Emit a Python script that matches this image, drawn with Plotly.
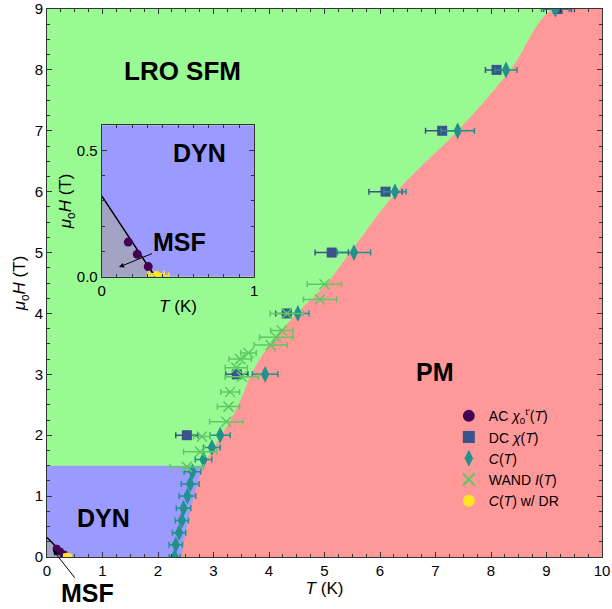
import plotly.graph_objects as go

# ---------------- data ----------------
T_MAX, H_MAX = 10, 9
INSET_T_MAX, INSET_H_MAX = 1, 0.6
DYN_H_MAX = 1.5
DYN_T_MAX = 3.0

# PM phase boundary
pm_T = [2.42, 2.52, 2.65, 2.82, 3.15, 3.45, 3.68, 4.02, 4.5, 5.05, 5.46, 6.3, 7.4, 8.35, 9.12]
pm_H = [0.0, 0.5, 1.0, 1.5, 2.0, 2.5, 3.0, 3.5, 4.0, 4.5, 5.0, 6.0, 7.0, 8.0, 9.0]

# MSF boundary line
msf_T = [0.0, 0.35]
msf_H = [0.32, 0.0]

# AC chi
ac_T = [0.174, 0.233, 0.305]
ac_H = [0.137, 0.089, 0.04]
ac_err = [0.01, 0.01, 0.01]

# DC chi
dc_T = [2.52, 3.42, 4.32, 5.13, 6.1, 7.12, 8.1, 9.2]
dc_H = [2.0, 3.0, 4.0, 5.0, 6.0, 7.0, 8.0, 9.0]
dc_err = [0.2, 0.2, 0.2, 0.3, 0.3, 0.3, 0.2, 0.25]

# C(T)
c_T = [2.30, 2.32, 2.38, 2.43, 2.46, 2.53, 2.58, 2.62, 2.82, 2.97, 3.12, 3.93, 4.52, 5.53, 6.27, 7.4, 8.27, 9.16]
c_H = [0.0, 0.2, 0.4, 0.6, 0.8, 1.0, 1.2, 1.4, 1.6, 1.8, 2.0, 3.0, 4.0, 5.0, 6.0, 7.0, 8.0, 9.0]
c_err = [0.1, 0.12, 0.12, 0.12, 0.13, 0.15, 0.16, 0.15, 0.15, 0.15, 0.18, 0.23, 0.2, 0.3, 0.2, 0.3, 0.2, 0.25]

# WAND I(T)
w_T = [2.52, 2.76, 2.79, 3.23, 3.27, 3.30, 3.51, 3.41, 3.48, 3.63, 4.03, 4.13, 4.23, 4.32, 4.92, 5.0]
w_H = [1.48, 1.73, 1.98, 2.22, 2.47, 2.71, 2.96, 3.11, 3.25, 3.35, 3.48, 3.61, 3.72, 4.0, 4.23, 4.48]
w_err = [0.3, 0.3, 0.15, 0.3, 0.2, 0.17, 0.3, 0.2, 0.2, 0.14, 0.3, 0.3, 0.2, 0.3, 0.3, 0.31]

# C(T) w/ DR
dr_T = [0.37, 0.36]
dr_H = [0.005, 0.012]
dr_err = [0.07, 0.05]

# ---------------- style ----------------
GREEN = "#99fa93"
BLUE = "#9b9bff"
RED = "#ff9898"
GRAY = "#a3a3c6"
C_AC, C_DC, C_C, C_W, C_DR = "#440154", "#3b528b", "#21918c", "#5ec962", "#fde725"
FONT = "Liberation Sans, Arial, sans-serif"

fig = go.Figure()

# DYN region (main)
fig.add_trace(go.Scatter(x=[0, DYN_T_MAX, DYN_T_MAX, 0], y=[0, 0, DYN_H_MAX, DYN_H_MAX],
                         fill="toself", fillcolor=BLUE, mode="none", showlegend=False,
                         hoverinfo="skip"))
# PM region
fig.add_trace(go.Scatter(x=pm_T + [T_MAX, T_MAX], y=pm_H + [H_MAX, 0],
                         fill="toself", fillcolor=RED, mode="none", showlegend=False,
                         line_shape="spline", hoverinfo="skip"))
# MSF region + line
fig.add_trace(go.Scatter(x=[0] + msf_T, y=[0] + msf_H, fill="toself", fillcolor=GRAY,
                         mode="none", showlegend=False, hoverinfo="skip"))
fig.add_trace(go.Scatter(x=msf_T, y=msf_H, mode="lines", line=dict(color="black", width=1.5),
                         showlegend=False))


def errx(arr, color):
    return dict(type="data", array=arr, visible=True, color=color, thickness=1.5, width=3)


fig.add_trace(go.Scatter(x=ac_T, y=ac_H, mode="markers", name="AC <i>χ</i><sub>0</sub><sup>t'</sup>(<i>T</i>)",
                         marker=dict(symbol="circle", size=8, color=C_AC),
                         error_x=errx(ac_err, C_AC)))
fig.add_trace(go.Scatter(x=dc_T, y=dc_H, mode="markers", name="DC <i>χ</i>(<i>T</i>)",
                         marker=dict(symbol="square", size=10, color=C_DC),
                         error_x=errx(dc_err, C_DC)))
fig.add_trace(go.Scatter(x=c_T, y=c_H, mode="markers", name="<i>C</i>(<i>T</i>)",
                         marker=dict(symbol="diamond-tall", size=12, color=C_C),
                         error_x=errx(c_err, C_C)))
fig.add_trace(go.Scatter(x=w_T, y=w_H, mode="markers", name="WAND <i>I</i>(<i>T</i>)",
                         marker=dict(symbol="x-thin", size=10, color=C_W, line=dict(color=C_W, width=1.5)),
                         error_x=errx(w_err, C_W)))
fig.add_trace(go.Scatter(x=dr_T, y=dr_H, mode="markers", name="<i>C</i>(<i>T</i>) w/ DR",
                         marker=dict(symbol="circle", size=7, color=C_DR),
                         error_x=errx(dr_err, C_DR)))

# ---------------- inset ----------------
fig.add_trace(go.Scatter(x=[0, INSET_T_MAX, INSET_T_MAX, 0], y=[0, 0, INSET_H_MAX, INSET_H_MAX],
                         xaxis="x2", yaxis="y2", fill="toself", fillcolor=BLUE, mode="none",
                         showlegend=False, hoverinfo="skip"))
fig.add_trace(go.Scatter(x=[0] + msf_T, y=[0] + msf_H, xaxis="x2", yaxis="y2", fill="toself",
                         fillcolor=GRAY, mode="none", showlegend=False, hoverinfo="skip"))
fig.add_trace(go.Scatter(x=msf_T, y=msf_H, xaxis="x2", yaxis="y2", mode="lines",
                         line=dict(color="black", width=1.5), showlegend=False))
fig.add_trace(go.Scatter(x=ac_T, y=ac_H, xaxis="x2", yaxis="y2", mode="markers", showlegend=False,
                         marker=dict(symbol="circle", size=9, color=C_AC), error_x=errx(ac_err, C_AC)))
fig.add_trace(go.Scatter(x=dr_T, y=dr_H, xaxis="x2", yaxis="y2", mode="markers", showlegend=False,
                         marker=dict(symbol="circle", size=6, color=C_DR), error_x=errx(dr_err, C_DR)))

axis_common = dict(showgrid=False, zeroline=False, showline=True, linecolor="#333", linewidth=1,
                   mirror="ticks", ticks="inside", ticklen=5, tickcolor="#333", automargin=False,
                   tickfont=dict(family=FONT, size=15, color="black"))

fig.update_layout(
    width=612, height=609,
    margin=dict(l=47, r=10, t=9, b=52),
    plot_bgcolor=GREEN, paper_bgcolor="white",
    font=dict(family=FONT, color="black"),
    xaxis=dict(range=[0, T_MAX], dtick=1, domain=[0, 1],
               minor=dict(dtick=0.25, ticklen=3, ticks="inside", tickcolor="#333"),
               title=dict(text="<i>T</i> (K)", font=dict(size=17), standoff=0), **axis_common),
    yaxis=dict(range=[0, H_MAX], dtick=1, domain=[0, 1],
               minor=dict(dtick=0.25, ticklen=3, ticks="inside", tickcolor="#333"),
               title=dict(text="<i>μ</i><sub>o</sub><i>H</i> (T)", font=dict(size=17), standoff=4),
               **axis_common),
    xaxis2=dict(range=[0, INSET_T_MAX], tickvals=[0, 1], ticktext=["0", "1"], anchor="y2",
                domain=[0.0986, 0.3735],
                minor=dict(dtick=0.1, ticklen=3, ticks="inside", tickcolor="#333"),
                title=dict(text="<i>T</i> (K)", font=dict(size=17), standoff=2), **axis_common),
    yaxis2=dict(range=[0, INSET_H_MAX], tickvals=[0, 0.5], ticktext=["0.0", "0.5"], anchor="x2",
                domain=[0.5115, 0.788],
                minor=dict(dtick=0.1, ticklen=3, ticks="inside", tickcolor="#333"),
                title=dict(text="<i>μ</i><sub>o</sub><i>H</i> (T)", font=dict(size=17), standoff=0),
                **axis_common),
    legend=dict(x=0.724, y=0.286, xanchor="left", yanchor="top", bgcolor="rgba(0,0,0,0)",
                font=dict(family=FONT, size=14), tracegroupgap=0, itemsizing="constant"),
    showlegend=True,
)

bold = dict(family=FONT, size=25, color="black")
fig.add_annotation(x=2.45, y=7.98, text="<b>LRO SFM</b>", showarrow=False, font=dict(family=FONT, size=26))
fig.add_annotation(x=6.99, y=3.04, text="<b>PM</b>", showarrow=False, font=bold)
fig.add_annotation(x=1.01, y=0.64, text="<b>DYN</b>", showarrow=False, font=bold)
fig.add_annotation(x=0.11, y=0.11, text="<b>MSF</b>", showarrow=True, ax=34, ay=43,
                   arrowhead=2, arrowsize=1, arrowwidth=1, arrowcolor="black", font=bold)
fig.add_annotation(x=0.644, y=0.49, xref="x2", yref="y2", text="<b>DYN</b>", showarrow=False, font=bold)
fig.add_annotation(x=0.113, y=0.038, xref="x2", yref="y2", text="<b>MSF</b>", showarrow=True,
                   ax=61, ay=-25, arrowhead=2, arrowsize=1, arrowwidth=1, arrowcolor="black", font=bold)

fig.write_html("out.html")
